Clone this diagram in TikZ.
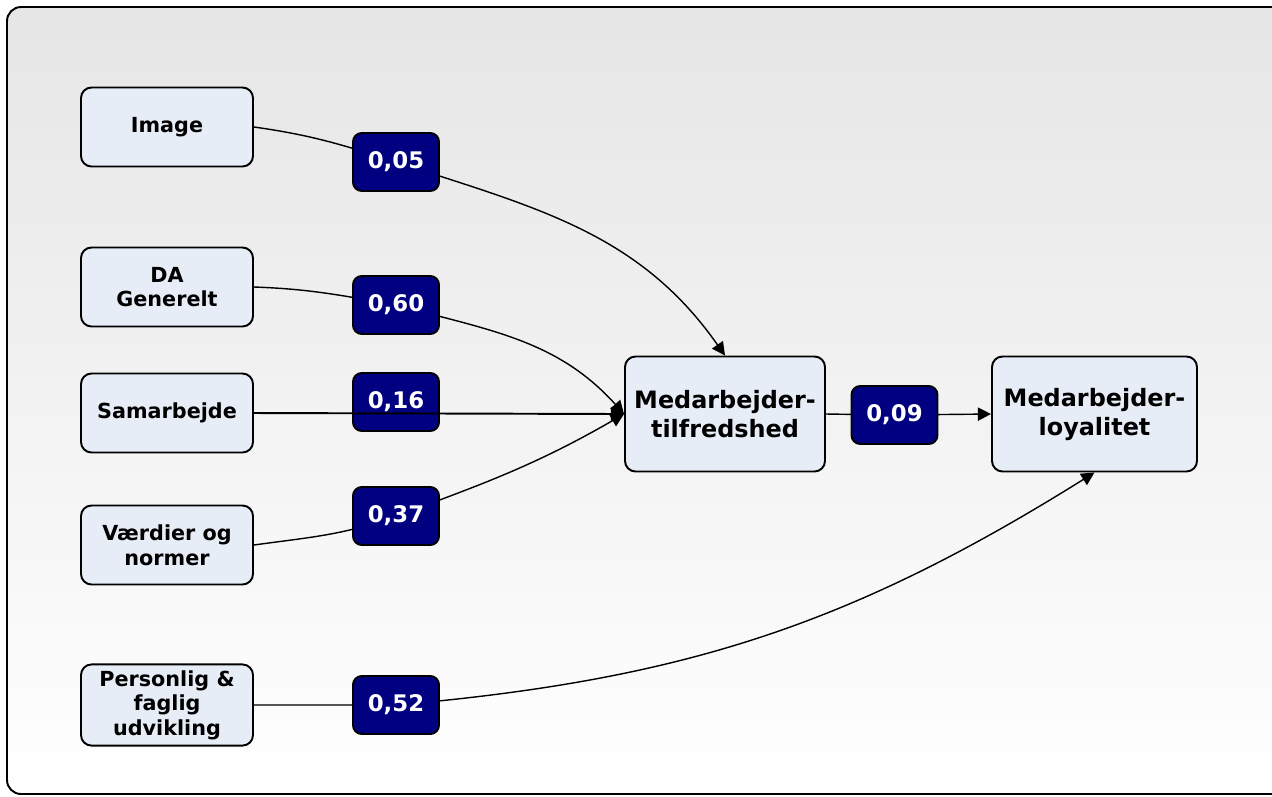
\documentclass[tikz,border=0pt]{standalone}
\usepackage{fontspec}
\setmainfont{DejaVu Sans}
\usetikzlibrary{arrows.meta,positioning}
\definecolor{boxfill}{RGB}{231,237,247}
\definecolor{wnavy}{RGB}{0,0,128}
\pgfdeclarelayer{backdrop}
\pgfdeclarelayer{links}
\pgfsetlayers{backdrop,links,main}

\begin{document}
\begin{tikzpicture}[
    factor/.style={draw, line width=1.1pt, fill=boxfill, rounded corners=6pt,
                   minimum width=3.44cm, minimum height=1.58cm, align=center,
                   font=\fontsize{11.8}{14}\selectfont\bfseries},
    outcome/.style={factor, minimum width=4cm, minimum height=2.3cm,
                    font=\fontsize{13.6}{16.5}\selectfont\bfseries},
    weight/.style={draw, line width=1.1pt, fill=wnavy, text=white, rounded corners=5pt,
                   minimum width=1.72cm, minimum height=1.16cm,
                   font=\fontsize{13}{15}\selectfont\bfseries},
    link/.style={line width=0.8pt, -{Triangle[length=7.5pt,width=7.5pt]}}]

  \useasboundingbox (0,0) rectangle (25.44,-15.92);
  \begin{pgfonlayer}{backdrop}
    \fill[top color=black!10, bottom color=white]
      (25.44,-0.14) [rounded corners=8pt] -- (0.14,-0.14) -- (0.14,-15.88)
      [sharp corners] -- (25.44,-15.88) -- cycle;
    \draw[line width=1.1pt]
      (25.44,-0.14) [rounded corners=8pt] -- (0.14,-0.14) -- (0.14,-15.88)
      [sharp corners] -- (25.44,-15.88);
  \end{pgfonlayer}

  % drivers
  \node[factor] (img)    at (3.34,-2.54)  {Image};
  \node[factor] (da)     at (3.34,-5.74)  {DA\\Generelt};
  \node[factor] (sam)    at (3.34,-8.26)  {Samarbejde};
  \node[factor] (vaerdi) at (3.34,-10.9)  {Værdier og\\normer};
  \node[factor] (pers)   at (3.34,-14.1)  {Personlig \&\\faglig\\udvikling};

  % outcomes
  \node[outcome] (tilf) at (14.5,-8.28)  {Medarbejder-\\tilfredshed};
  \node[outcome, minimum width=4.1cm] (loy) at (21.89,-8.28) {Medarbejder-\\loyalitet};

  % path weights
  \node[weight] (w05) at (7.92,-3.24)  {0,05};
  \node[weight] (w60) at (7.92,-6.1)   {0,60};
  \node[weight] (w16) at (7.92,-8.04)  {0,16};
  \node[weight] (w37) at (7.92,-10.32) {0,37};
  \node[weight] (w52) at (7.92,-14.1)  {0,52};
  \node[weight] (w09) at (17.89,-8.3)  {0,09};

  \begin{pgfonlayer}{links}
    \draw[link] (img.east) to[out=-8,in=162] (w05.center) to[out=-18,in=125] (tilf.north);
    \draw[link] (da.east) to[out=-2,in=170] (w60.center) to[out=-15,in=132] (tilf.west);
    \draw[link] (vaerdi.east) to[out=8,in=-160] (w37.center) to[out=20,in=-150] (tilf.west);
    \draw[link] (pers.east) to[out=0,in=180] (w52.center) to[out=5,in=-148] (loy.south);
    \draw[link] (tilf.east) -- (w09.center) -- (loy.west);
  \end{pgfonlayer}
  \draw[link, line width=1.1pt] (sam.east) -- (tilf.west);
\end{tikzpicture}
\end{document}
